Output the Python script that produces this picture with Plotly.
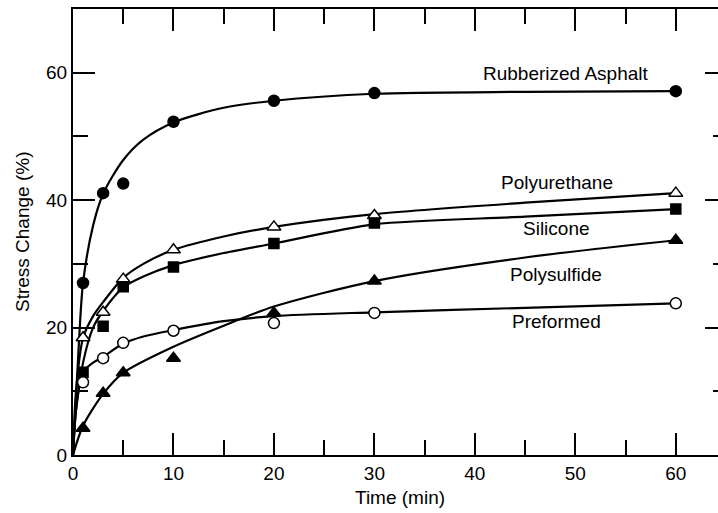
import plotly.graph_objects as go

# Measured stress change (%) at each elapsed time (min)
times = [1, 3, 5, 10, 20, 30, 60]
asphalt = [27.0, 41.1, 42.6, 52.3, 55.6, 56.8, 57.1]
polyurethane = [18.4, 22.4, 27.6, 32.2, 35.8, 37.6, 41.1]
silicone = [13.0, 20.2, 26.4, 29.5, 33.2, 36.4, 38.6]
polysulfide = [4.2, 9.7, 12.9, 15.2, 22.3, 27.3, 33.7]
preformed = [11.4, 15.2, 17.6, 19.5, 20.7, 22.3, 23.8]

# Smooth trend curves drawn through each data set
asphalt_fit_t = [0, 0.5, 1, 2, 3, 5, 7, 10, 15, 20, 30, 45, 60]
asphalt_fit = [0, 15, 27, 36, 41, 46.3, 49.5, 52.2, 54.5, 55.6, 56.7, 57.0, 57.1]
polyurethane_fit_t = [0, 0.3, 1, 2, 3, 5, 7, 10, 15, 20, 30, 45, 60]
polyurethane_fit = [0, 10, 18.4, 21.8, 24, 27.8, 30, 32.2, 34.3, 35.8, 37.8, 39.6, 41.1]
silicone_fit_t = [0, 0.3, 1, 2, 3, 5, 7, 10, 15, 20, 30, 45, 60]
silicone_fit = [0, 7, 14.5, 20, 22.6, 26.3, 28, 29.8, 31.7, 33.2, 36.2, 37.4, 38.6]
polysulfide_fit_t = [0, 1, 3, 5, 10, 15, 20, 30, 45, 60]
polysulfide_fit = [0, 4.6, 9.6, 12.9, 17, 20.3, 23.3, 27.3, 31, 33.7]
preformed_fit_t = [0, 0.3, 1, 2, 3, 5, 7, 10, 15, 20, 30, 45, 60]
preformed_fit = [0, 7, 13, 14.5, 15.4, 17.5, 18.6, 19.6, 21, 21.8, 22.4, 23.1, 23.8]

labels = ["Rubberized Asphalt", "Polyurethane", "Silicone", "Polysulfide", "Preformed"]
label_x = [49, 48.2, 48.1, 48.1, 48.1]
label_y = [59.9, 42.7, 35.5, 28.4, 20.9]

FONT = "Liberation Sans, Arial, Helvetica, sans-serif"
FSIZE = 19
INK = "black"

series = [
    (asphalt_fit_t, asphalt_fit, asphalt, "circle", INK),
    (polyurethane_fit_t, polyurethane_fit, polyurethane, "triangle-up", "white"),
    (silicone_fit_t, silicone_fit, silicone, "square", INK),
    (polysulfide_fit_t, polysulfide_fit, polysulfide, "triangle-up", INK),
    (preformed_fit_t, preformed_fit, preformed, "circle", "white"),
]

fig = go.Figure()
for (ft, fy, ys, sym, fill), name in zip(series, labels):
    fig.add_trace(go.Scatter(
        x=ft, y=fy, mode="lines", name=name + " trend",
        line=dict(color=INK, width=2.2, shape="spline", smoothing=0.8),
        hoverinfo="skip", showlegend=False,
    ))
for (ft, fy, ys, sym, fill), name in zip(series, labels):
    size = 11 if sym == "circle" else (12 if sym.startswith("triangle") else 10)
    fig.add_trace(go.Scatter(
        x=times, y=ys, mode="markers", name=name,
        marker=dict(symbol=sym, size=size, color=fill,
                    line=dict(color=INK, width=1.5)),
        showlegend=False,
    ))

# empty trace so the right-hand tick axis is drawn
fig.add_trace(go.Scatter(x=[None], y=[None], yaxis="y2", mode="markers",
                         hoverinfo="skip", showlegend=False))

for name, lx, ly in zip(labels, label_x, label_y):
    fig.add_annotation(x=lx, y=ly, xref="x", yref="y", text=name,
                       showarrow=False, font=dict(family=FONT, size=FSIZE, color=INK))

fig.add_annotation(x=0.507, y=-0.0964, xref="paper", yref="paper",
                   text="Time (min)", showarrow=False, yanchor="middle",
                   font=dict(family=FONT, size=FSIZE, color=INK))
fig.add_annotation(x=-0.079, y=0.5, xref="paper", yref="paper",
                   text="Stress Change (%)", showarrow=False, textangle=-90,
                   xanchor="center", yanchor="middle",
                   font=dict(family=FONT, size=FSIZE, color=INK))

fig.update_layout(
    width=718, height=513,
    margin=dict(l=73, r=0, t=9, b=58),
    paper_bgcolor="white", plot_bgcolor="white",
    font=dict(family=FONT, size=FSIZE, color=INK),
    showlegend=False,
    xaxis=dict(
        range=[0, 64.2], tick0=0, dtick=10, showgrid=False, zeroline=False,
        showline=True, linecolor=INK, linewidth=2, mirror="ticks",
        ticks="inside", ticklen=22, tickwidth=1.5, tickcolor=INK,
        minor=dict(dtick=5, ticks="inside", ticklen=15, tickwidth=1.5, tickcolor=INK),
        tickfont=dict(family=FONT, size=FSIZE, color=INK),
    ),
    yaxis=dict(
        range=[0, 70], tick0=0, dtick=20, showgrid=False, zeroline=False,
        showline=True, linecolor=INK, linewidth=2,
        ticks="inside", ticklen=22, tickwidth=1.5, tickcolor=INK,
        minor=dict(dtick=10, ticks="inside", ticklen=15, tickwidth=1.5, tickcolor=INK),
        tickfont=dict(family=FONT, size=FSIZE, color=INK),
    ),
    yaxis2=dict(
        range=[0, 70], overlaying="y", side="right", anchor="x",
        tick0=0, dtick=20, showgrid=False, zeroline=False, showline=False,
        showticklabels=False, ticks="inside", ticklen=13, tickwidth=1.5, tickcolor=INK,
        minor=dict(dtick=10, ticks="inside", ticklen=5, tickwidth=1.5, tickcolor=INK),
    ),
)

fig.write_html("out.html")
